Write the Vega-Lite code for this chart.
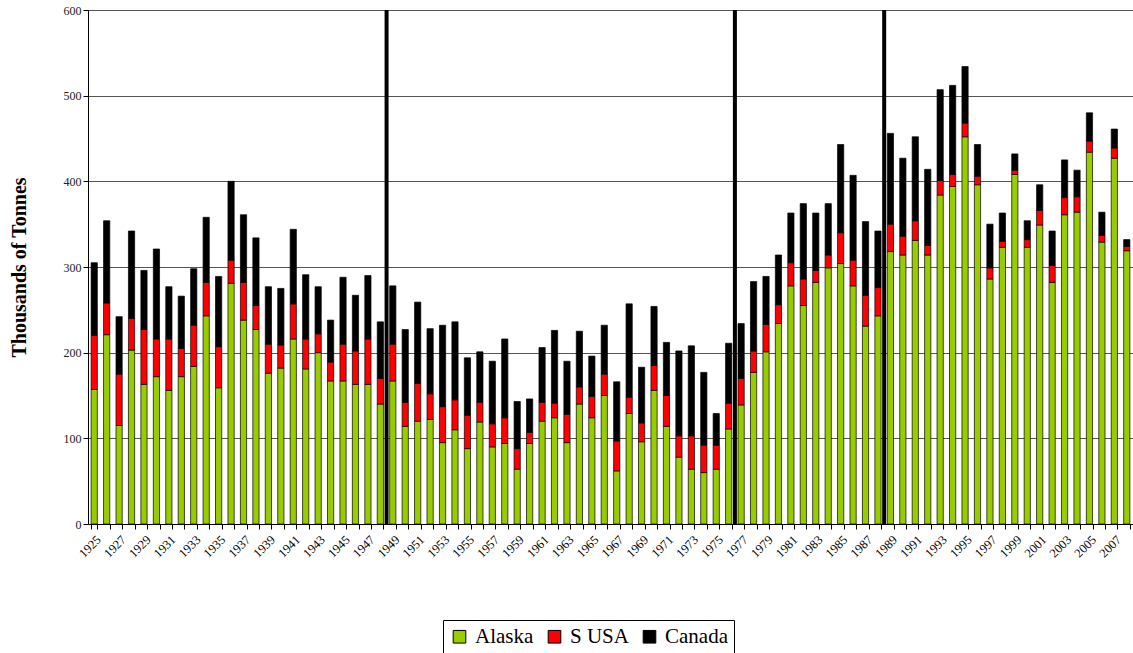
{
  "$schema": "https://vega.github.io/schema/vega-lite/v6.json",
  "autosize": "none",
  "width": 1045,
  "height": 514,
  "padding": {"left": 88, "top": 10, "right": 0, "bottom": 129},
  "background": "white",
  "config": {"view": {"stroke": null}, "font": "Liberation Serif"},
  "datasets": {
    "salmon": [
      {"year": 1925, "Alaska": 157, "S USA": 63, "Canada": 85},
      {"year": 1926, "Alaska": 221, "S USA": 37, "Canada": 96},
      {"year": 1927, "Alaska": 115, "S USA": 60, "Canada": 67},
      {"year": 1928, "Alaska": 203, "S USA": 37, "Canada": 102},
      {"year": 1929, "Alaska": 163, "S USA": 64, "Canada": 69},
      {"year": 1930, "Alaska": 172, "S USA": 44, "Canada": 105},
      {"year": 1931, "Alaska": 156, "S USA": 60, "Canada": 61},
      {"year": 1932, "Alaska": 172, "S USA": 33, "Canada": 61},
      {"year": 1933, "Alaska": 184, "S USA": 48, "Canada": 66},
      {"year": 1934, "Alaska": 243, "S USA": 39, "Canada": 76},
      {"year": 1935, "Alaska": 159, "S USA": 48, "Canada": 82},
      {"year": 1936, "Alaska": 281, "S USA": 27, "Canada": 92},
      {"year": 1937, "Alaska": 238, "S USA": 44, "Canada": 79},
      {"year": 1938, "Alaska": 227, "S USA": 28, "Canada": 79},
      {"year": 1939, "Alaska": 176, "S USA": 34, "Canada": 67},
      {"year": 1940, "Alaska": 182, "S USA": 27, "Canada": 66},
      {"year": 1941, "Alaska": 216, "S USA": 41, "Canada": 87},
      {"year": 1942, "Alaska": 181, "S USA": 35, "Canada": 75},
      {"year": 1943, "Alaska": 200, "S USA": 22, "Canada": 55},
      {"year": 1944, "Alaska": 167, "S USA": 22, "Canada": 49},
      {"year": 1945, "Alaska": 167, "S USA": 43, "Canada": 78},
      {"year": 1946, "Alaska": 163, "S USA": 39, "Canada": 65},
      {"year": 1947, "Alaska": 163, "S USA": 53, "Canada": 74},
      {"year": 1948, "Alaska": 140, "S USA": 30, "Canada": 66},
      {"year": 1949, "Alaska": 167, "S USA": 43, "Canada": 68},
      {"year": 1950, "Alaska": 114, "S USA": 28, "Canada": 85},
      {"year": 1951, "Alaska": 120, "S USA": 44, "Canada": 95},
      {"year": 1952, "Alaska": 122, "S USA": 30, "Canada": 76},
      {"year": 1953, "Alaska": 95, "S USA": 42, "Canada": 95},
      {"year": 1954, "Alaska": 110, "S USA": 35, "Canada": 91},
      {"year": 1955, "Alaska": 88, "S USA": 39, "Canada": 67},
      {"year": 1956, "Alaska": 119, "S USA": 23, "Canada": 59},
      {"year": 1957, "Alaska": 90, "S USA": 27, "Canada": 73},
      {"year": 1958, "Alaska": 94, "S USA": 30, "Canada": 92},
      {"year": 1959, "Alaska": 64, "S USA": 24, "Canada": 55},
      {"year": 1960, "Alaska": 94, "S USA": 13, "Canada": 39},
      {"year": 1961, "Alaska": 120, "S USA": 22, "Canada": 64},
      {"year": 1962, "Alaska": 124, "S USA": 17, "Canada": 85},
      {"year": 1963, "Alaska": 95, "S USA": 33, "Canada": 62},
      {"year": 1964, "Alaska": 140, "S USA": 20, "Canada": 65},
      {"year": 1965, "Alaska": 124, "S USA": 25, "Canada": 47},
      {"year": 1966, "Alaska": 150, "S USA": 25, "Canada": 57},
      {"year": 1967, "Alaska": 62, "S USA": 35, "Canada": 69},
      {"year": 1968, "Alaska": 129, "S USA": 19, "Canada": 109},
      {"year": 1969, "Alaska": 96, "S USA": 22, "Canada": 65},
      {"year": 1970, "Alaska": 156, "S USA": 29, "Canada": 69},
      {"year": 1971, "Alaska": 114, "S USA": 36, "Canada": 62},
      {"year": 1972, "Alaska": 78, "S USA": 25, "Canada": 99},
      {"year": 1973, "Alaska": 64, "S USA": 39, "Canada": 105},
      {"year": 1974, "Alaska": 60, "S USA": 32, "Canada": 85},
      {"year": 1975, "Alaska": 64, "S USA": 28, "Canada": 37},
      {"year": 1976, "Alaska": 111, "S USA": 30, "Canada": 70},
      {"year": 1977, "Alaska": 139, "S USA": 31, "Canada": 64},
      {"year": 1978, "Alaska": 177, "S USA": 25, "Canada": 81},
      {"year": 1979, "Alaska": 201, "S USA": 32, "Canada": 56},
      {"year": 1980, "Alaska": 234, "S USA": 22, "Canada": 58},
      {"year": 1981, "Alaska": 278, "S USA": 27, "Canada": 58},
      {"year": 1982, "Alaska": 255, "S USA": 31, "Canada": 88},
      {"year": 1983, "Alaska": 282, "S USA": 14, "Canada": 67},
      {"year": 1984, "Alaska": 299, "S USA": 15, "Canada": 60},
      {"year": 1985, "Alaska": 304, "S USA": 36, "Canada": 103},
      {"year": 1986, "Alaska": 278, "S USA": 30, "Canada": 99},
      {"year": 1987, "Alaska": 231, "S USA": 36, "Canada": 86},
      {"year": 1988, "Alaska": 243, "S USA": 33, "Canada": 66},
      {"year": 1989, "Alaska": 318, "S USA": 32, "Canada": 106},
      {"year": 1990, "Alaska": 314, "S USA": 22, "Canada": 91},
      {"year": 1991, "Alaska": 331, "S USA": 23, "Canada": 98},
      {"year": 1992, "Alaska": 314, "S USA": 11, "Canada": 89},
      {"year": 1993, "Alaska": 384, "S USA": 17, "Canada": 106},
      {"year": 1994, "Alaska": 394, "S USA": 14, "Canada": 104},
      {"year": 1995, "Alaska": 452, "S USA": 16, "Canada": 66},
      {"year": 1996, "Alaska": 396, "S USA": 10, "Canada": 37},
      {"year": 1997, "Alaska": 286, "S USA": 13, "Canada": 51},
      {"year": 1998, "Alaska": 323, "S USA": 7, "Canada": 33},
      {"year": 1999, "Alaska": 408, "S USA": 5, "Canada": 19},
      {"year": 2000, "Alaska": 323, "S USA": 9, "Canada": 22},
      {"year": 2001, "Alaska": 349, "S USA": 17, "Canada": 30},
      {"year": 2002, "Alaska": 282, "S USA": 20, "Canada": 40},
      {"year": 2003, "Alaska": 361, "S USA": 20, "Canada": 44},
      {"year": 2004, "Alaska": 364, "S USA": 18, "Canada": 31},
      {"year": 2005, "Alaska": 434, "S USA": 13, "Canada": 33},
      {"year": 2006, "Alaska": 329, "S USA": 8, "Canada": 27},
      {"year": 2007, "Alaska": 427, "S USA": 12, "Canada": 22},
      {"year": 2008, "Alaska": 319, "S USA": 5, "Canada": 8}
    ],
    "seriesRank": [
      {"series": "Alaska", "rank": 1},
      {"series": "S USA", "rank": 2},
      {"series": "Canada", "rank": 3}
    ],
    "shifts": [{"year": 1949}, {"year": 1977}, {"year": 1989}]
  },
  "layer": [
    {
      "data": {"name": "salmon"},
      "transform": [
        {"fold": ["Alaska", "S USA", "Canada"], "as": ["series", "value"]},
        {"lookup": "series", "from": {"data": {"name": "seriesRank"}, "key": "series", "fields": ["rank"]}}
      ],
      "mark": {"type": "bar", "stroke": "#000000", "strokeWidth": 0.7},
      "encoding": {
        "x": {
          "field": "year", "type": "ordinal",
          "scale": {"paddingInner": 0.5, "paddingOuter": 0.25},
          "axis": {
            "title": null,
            "labelAngle": -45,
            "labelFont": "Liberation Serif",
            "labelFontSize": 12.5,
            "labelColor": "#000000",
            "labelExpr": "datum.value % 2 == 1 ? datum.label : ''",
            "labelOverlap": false,
            "tickBand": "extent",
            "tickColor": "#000000",
            "tickSize": 5,
            "domainColor": "#000000",
            "labelPadding": 4
          }
        },
        "y": {
          "field": "value", "type": "quantitative", "stack": "zero",
          "scale": {"domain": [0, 600]},
          "axis": {
            "title": "Thousands of Tonnes",
            "titleFont": "Liberation Serif",
            "titleFontSize": 20,
            "titleFontWeight": "bold",
            "titleColor": "#000000",
            "titlePadding": 34,
            "values": [0, 100, 200, 300, 400, 500, 600],
            "labelFont": "Liberation Serif",
            "labelFontSize": 12,
            "labelColor": "#222222",
            "tickColor": "#000000",
            "tickSize": 5,
            "domainColor": "#000000",
            "gridColor": "#555555",
            "gridWidth": 1
          }
        },
        "color": {
          "field": "series", "type": "nominal",
          "sort": ["Alaska", "S USA", "Canada"],
          "scale": {"domain": ["Alaska", "S USA", "Canada"], "range": ["#99cc00", "#ff0000", "#000000"]},
          "legend": {
            "title": null,
            "orient": "none",
            "legendX": 355,
            "legendY": 610,
            "direction": "horizontal",
            "strokeColor": "#000000",
            "padding": 6,
            "symbolType": "square",
            "symbolSize": 160,
            "symbolStrokeColor": "#000000",
            "symbolStrokeWidth": 1,
            "symbolOpacity": 1,
            "labelFont": "Liberation Serif",
            "labelFontSize": 21,
            "labelColor": "#000000",
            "labelOffset": 5,
            "columnPadding": 10
          }
        },
        "order": {"field": "rank", "type": "quantitative", "sort": "ascending"}
      }
    },
    {
      "data": {"name": "shifts"},
      "mark": {"type": "rule", "color": "#000000", "strokeWidth": 4},
      "encoding": {
        "x": {"field": "year", "type": "ordinal", "bandPosition": -0.5}
      }
    }
  ]
}
